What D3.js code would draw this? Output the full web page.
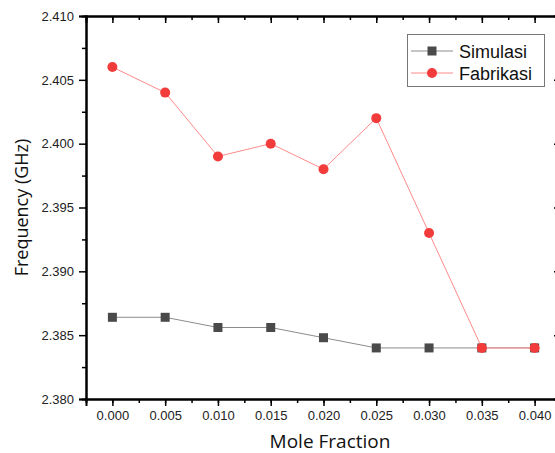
<!DOCTYPE html>
<html>
<head>
<meta charset="utf-8">
<script src="https://cdn.jsdelivr.net/npm/d3@7"></script>
<style>
  body { margin: 0; background: #fff; }
  svg { display: block; }
</style>
</head>
<body>
<svg id="chart" width="555" height="453"></svg>
<script>
// Mole fraction on x, resonant frequency (GHz) on y
const moleFraction = [0.000, 0.005, 0.010, 0.015, 0.020, 0.025, 0.030, 0.035, 0.040];
const simulasi = [2.3864, 2.3864, 2.3856, 2.3856, 2.3848, 2.3840, 2.3840, 2.3840, 2.3840];
const fabrikasi = [2.406, 2.404, 2.399, 2.400, 2.398, 2.402, 2.393, 2.384, 2.384];
const xTicks = [0.000, 0.005, 0.010, 0.015, 0.020, 0.025, 0.030, 0.035, 0.040];
const yTicks = [2.380, 2.385, 2.390, 2.395, 2.400, 2.405, 2.410];

const plot = { left: 86, right: 561, top: 16, bottom: 399 };

const svg = d3.select("#chart");

const x = d3.scaleLinear().domain([-0.0025, 0.0425]).range([plot.left, plot.right]);
const y = d3.scaleLinear().domain([2.380, 2.410]).range([plot.bottom, plot.top]);

const xMinor = d3.range(-0.0025, 0.0426, 0.0025).filter(v => v > -0.002 && v < 0.042);
const yMinor = d3.range(2.3825, 2.410, 0.005);

const tickFont = "'Liberation Sans', Arial, sans-serif";

// bottom axis: major + minor ticks outward
svg.append("g")
  .attr("transform", `translate(0,${plot.bottom})`)
  .call(d3.axisBottom(x).tickValues(xTicks).tickFormat(d3.format(".3f")).tickSize(7).tickPadding(5));
svg.append("g")
  .attr("transform", `translate(0,${plot.bottom})`)
  .call(d3.axisBottom(x).tickValues(xMinor).tickFormat("").tickSize(4));

// left axis
svg.append("g")
  .attr("transform", `translate(${plot.left},0)`)
  .call(d3.axisLeft(y).tickValues(yTicks).tickFormat(d3.format(".3f")).tickSize(7).tickPadding(5));
svg.append("g")
  .attr("transform", `translate(${plot.left},0)`)
  .call(d3.axisLeft(y).tickValues(yMinor).tickFormat("").tickSize(4));

// top and right frame with inward ticks
svg.append("g")
  .attr("transform", `translate(0,${plot.top})`)
  .call(d3.axisBottom(x).tickValues(xTicks).tickFormat("").tickSize(7));
svg.append("g")
  .attr("transform", `translate(0,${plot.top})`)
  .call(d3.axisBottom(x).tickValues(xMinor).tickFormat("").tickSize(4));
svg.append("g")
  .attr("transform", `translate(${plot.right},0)`)
  .call(d3.axisLeft(y).tickValues(yTicks).tickFormat("").tickSize(7));
svg.append("g")
  .attr("transform", `translate(${plot.right},0)`)
  .call(d3.axisLeft(y).tickValues(yMinor).tickFormat("").tickSize(4));

svg.selectAll(".domain").attr("stroke", "#000").attr("stroke-width", 2);
svg.selectAll(".tick line").attr("stroke", "#000").attr("stroke-width", 1.5);
svg.selectAll(".tick text")
  .attr("font-family", tickFont)
  .attr("font-size", 13)
  .attr("fill", "#222");

// axis titles
svg.append("text")
  .attr("x", 330)
  .attr("y", 448)
  .attr("text-anchor", "middle")
  .attr("font-family", "'Open Sans', 'Noto Sans', sans-serif")
  .attr("font-size", 19)
  .attr("fill", "#111")
  .text("Mole Fraction");

svg.append("text")
  .attr("transform", `translate(28,${(plot.top + plot.bottom) / 2}) rotate(-90)`)
  .attr("text-anchor", "middle")
  .attr("font-family", "'Open Sans', 'Noto Sans', sans-serif")
  .attr("font-size", 18)
  .attr("fill", "#111")
  .text("Frequency (GHz)");

const line = d3.line().x((d, i) => x(moleFraction[i])).y(d => y(d));

const series = [
  { name: "Simulasi", values: simulasi, lineColor: "#8c8c8c", fill: "#4a4a4a", shape: "square" },
  { name: "Fabrikasi", values: fabrikasi, lineColor: "#ff8a8a", fill: "#f23b3b", shape: "circle" }
];

function drawMarker(g, s, cx, cy) {
  if (s.shape === "square") {
    g.append("rect")
      .attr("x", cx - 4.5).attr("y", cy - 4.5)
      .attr("width", 9).attr("height", 9)
      .attr("fill", s.fill);
  } else {
    g.append("circle")
      .attr("cx", cx).attr("cy", cy).attr("r", 5)
      .attr("fill", s.fill);
  }
}

series.forEach(s => {
  const g = svg.append("g");
  g.append("path")
    .datum(s.values)
    .attr("fill", "none")
    .attr("stroke", s.lineColor)
    .attr("stroke-width", 1)
    .attr("d", line);
  s.values.forEach((v, i) => drawMarker(g, s, x(moleFraction[i]), y(v)));
});

// legend
const legend = svg.append("g");
legend.append("rect")
  .attr("x", 407.5).attr("y", 34.5)
  .attr("width", 137).attr("height", 52)
  .attr("fill", "#fff")
  .attr("stroke", "#777")
  .attr("stroke-width", 1);
series.forEach((s, i) => {
  const ly = 51 + i * 22;
  legend.append("line")
    .attr("x1", 411).attr("x2", 453)
    .attr("y1", ly).attr("y2", ly)
    .attr("stroke", s.lineColor)
    .attr("stroke-width", 1);
  drawMarker(legend, s, 432, ly);
  legend.append("text")
    .attr("x", 459).attr("y", ly + 6.5)
    .attr("font-family", tickFont)
    .attr("font-size", 18)
    .attr("fill", "#111")
    .text(s.name);
});
</script>
</body>
</html>
